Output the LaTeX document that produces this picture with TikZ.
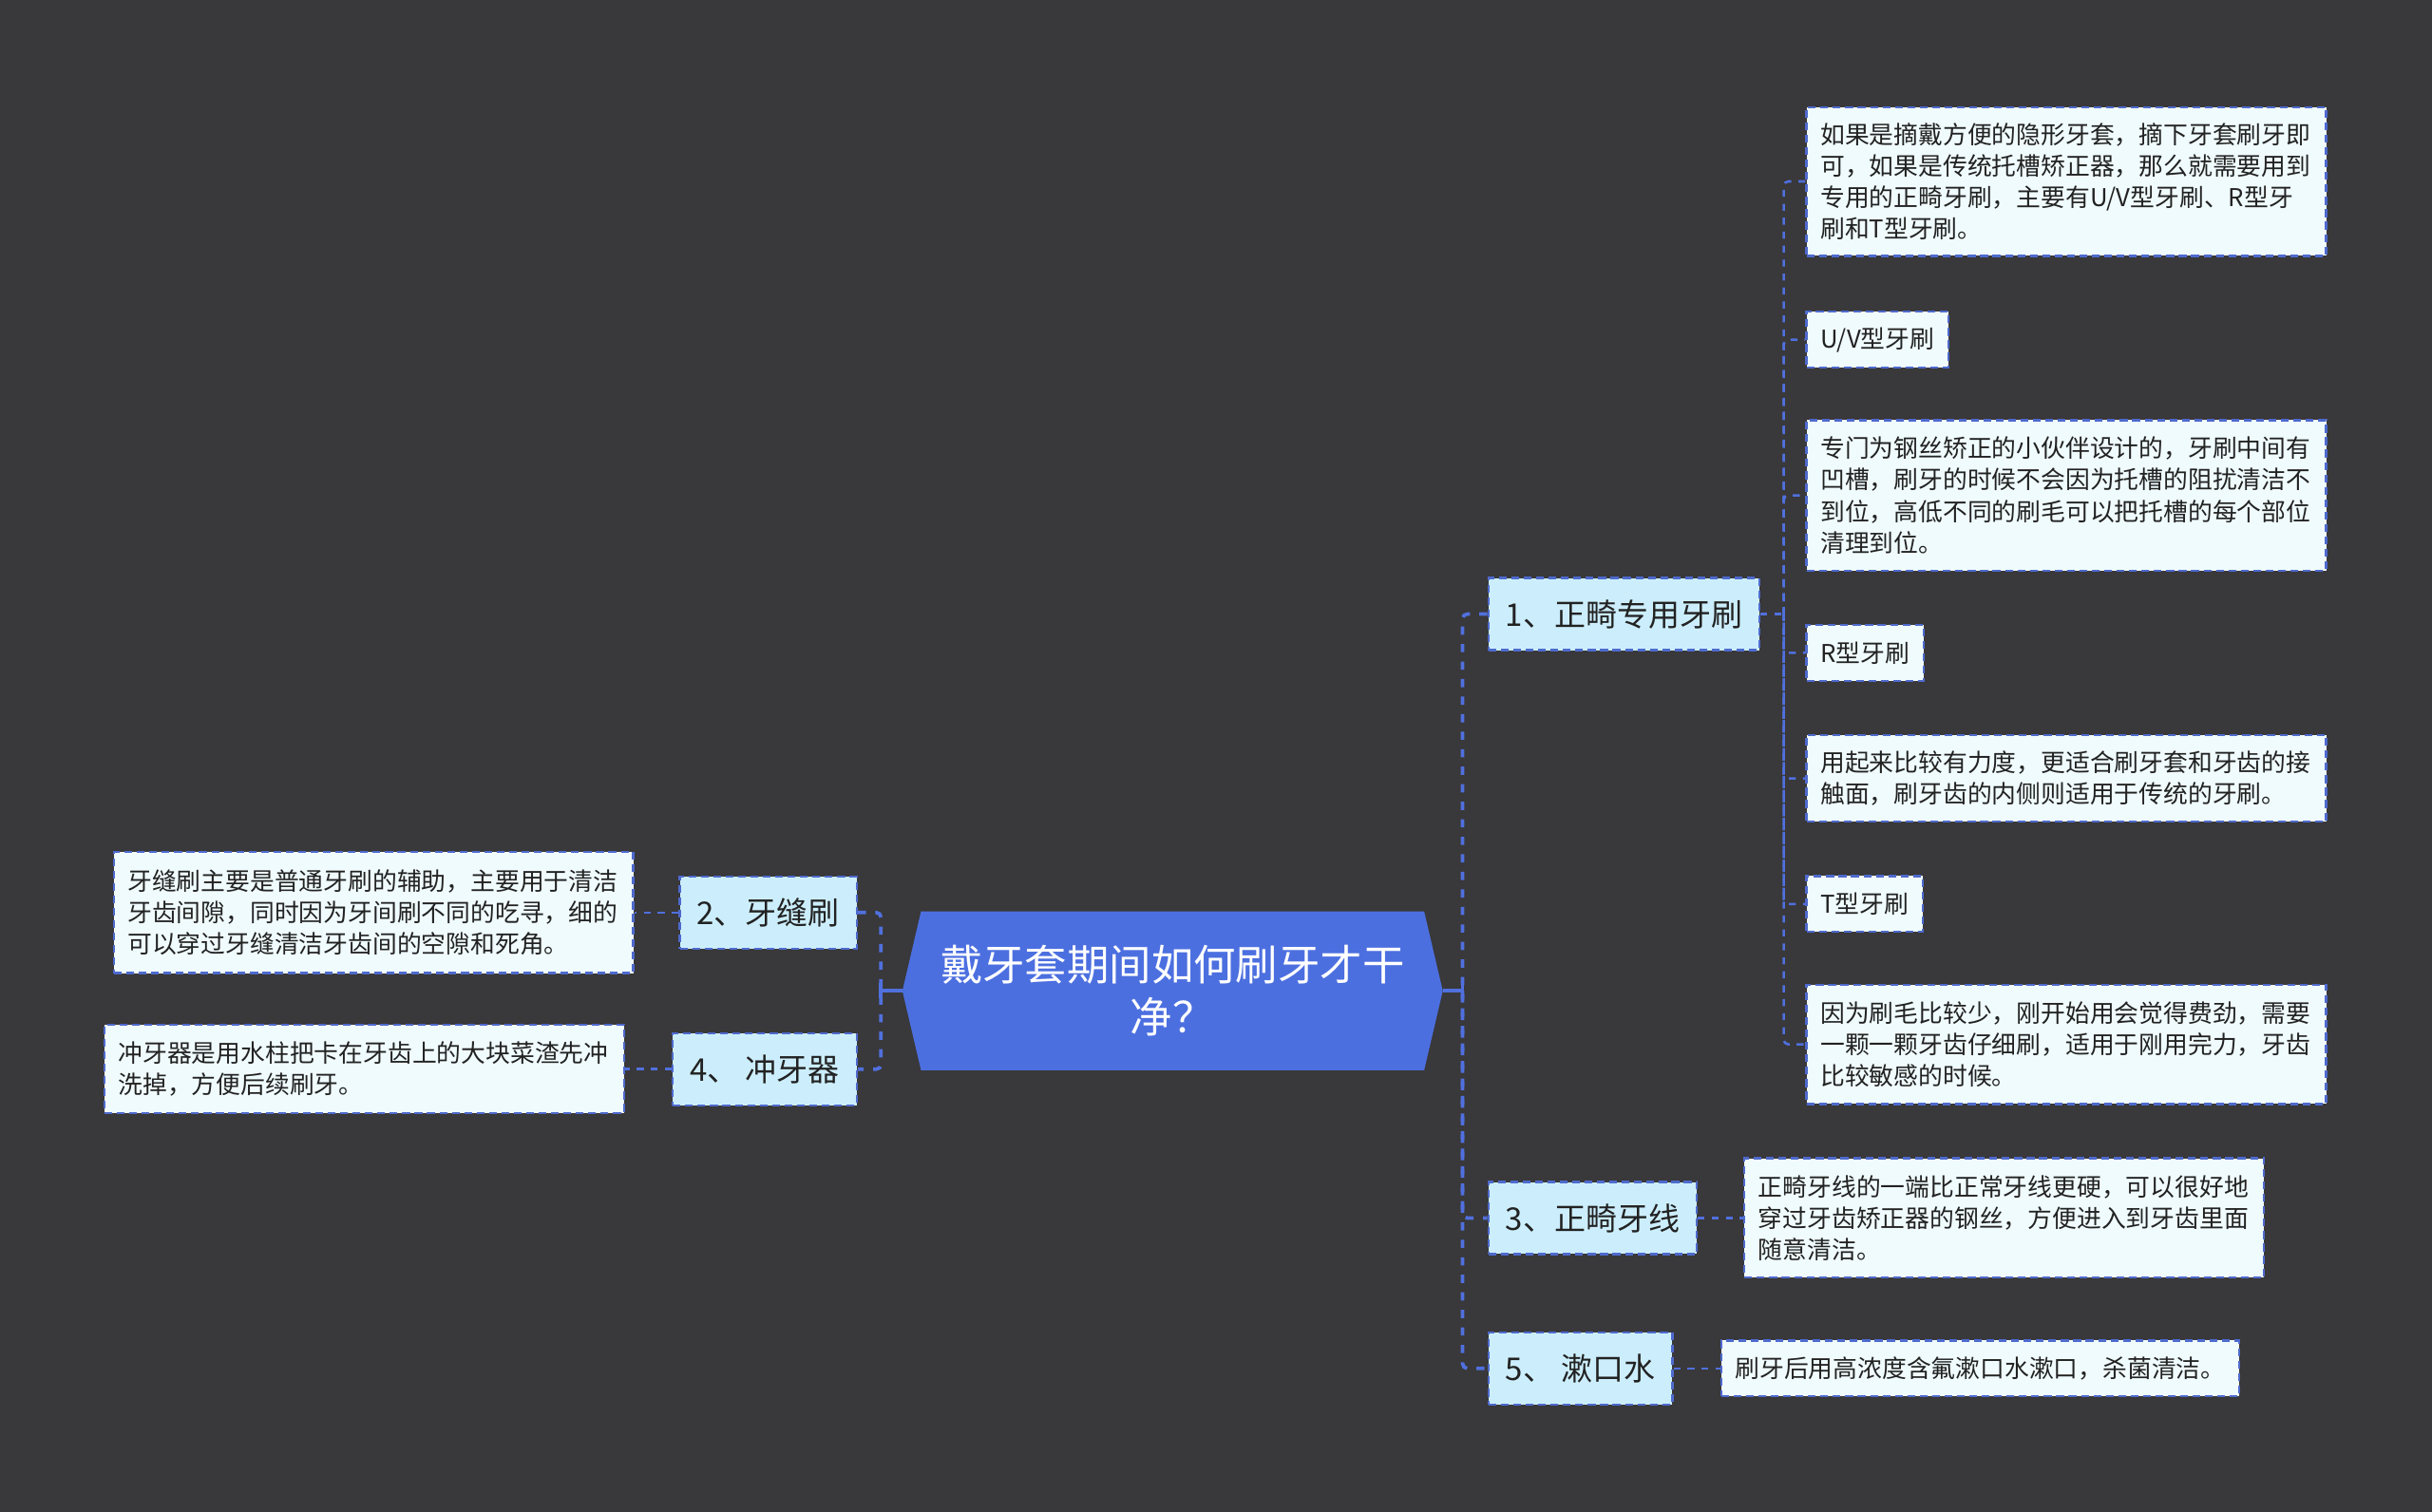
\documentclass[tikz,border=0pt]{standalone}
\usepackage{fontspec}
\setmainfont{Noto Sans CJK SC}
\usetikzlibrary{backgrounds}
\definecolor{bgc}{RGB}{57,56,58}
\definecolor{rootblue}{RGB}{76,111,224}
\definecolor{lineblue}{RGB}{80,112,222}
\definecolor{boxline}{RGB}{78,106,205}
\definecolor{lonefill}{RGB}{204,238,252}
\definecolor{leaffill}{RGB}{240,251,253}
\definecolor{txt}{RGB}{34,34,34}
\tikzset{
  mainconn/.style={draw=lineblue, line width=2.3pt, dash pattern=on 5.3pt off 6pt, rounded corners=3pt},
  conn/.style={draw=lineblue, line width=1.6pt, dash pattern=on 4.5pt off 4.5pt, rounded corners=3pt},
  lone/.style={draw=boxline, line width=1.4pt, dash pattern=on 5pt off 3pt, fill=lonefill,
    font=\fontsize{20.2}{24}\selectfont, text=txt, minimum height=46.5pt, inner xsep=11pt, inner ysep=0pt},
  tagleaf/.style={draw=boxline, line width=1.4pt, dash pattern=on 5pt off 3pt, fill=leaffill,
    font=\fontsize{15.8}{20.3}\selectfont, text=txt, inner xsep=9pt, inner ysep=0pt, minimum height=36pt},
  leaf/.style={tagleaf, text width=317pt, align=left},
  rootnode/.style={text=white, font=\fontsize{27.2}{34}\selectfont, align=center,
    minimum width=324pt, minimum height=102pt, inner sep=0pt}
}
\begin{document}
\begin{tikzpicture}[x=1pt,y=-1pt]
\begin{scope}[on background layer]
\fill[bgc] (0,0) rectangle (1568,975);
\end{scope}
\useasboundingbox (0,0) rectangle (1568,975);

% root
\node[rootnode] (root) at (756,639) {戴牙套期间如何刷牙才干\\净？};
\coordinate (rootR) at ([xshift=12pt]root.east);
\coordinate (rootL) at ([xshift=-12pt]root.west);
\begin{scope}[on background layer]
\fill[rootblue] (root.north west) -- (root.north east) -- (rootR) -- (root.south east)
  -- (root.south west) -- (rootL) -- cycle;
\end{scope}

% level 1
\node[lone, anchor=west] (n1) at (959,396) {1、正畸专用牙刷};
\node[lone, anchor=west] (n3) at (959,785.5) {3、正畸牙线};
\node[lone, anchor=west] (n5) at (959,882.5) {5、 漱口水};
\node[lone, anchor=east] (n2) at (553,588.5) {2、牙缝刷};
\node[lone, anchor=east] (n4) at (553,689.5) {4、 冲牙器};

% leaves of 1
\node[leaf, anchor=west, minimum height=96pt] (a) at (1164,117)
  {如果是摘戴方便的隐形牙套，摘下牙套刷牙即\\可，如果是传统托槽矫正器，那么就需要用到\\专用的正畸牙刷，主要有U/V型牙刷、R型牙\\刷和T型牙刷。};
\node[tagleaf, anchor=west] (b) at (1164,219) {U/V型牙刷};
\node[leaf, anchor=west, minimum height=97pt] (c) at (1164,319.5)
  {专门为钢丝矫正的小伙伴设计的，牙刷中间有\\凹槽，刷牙的时候不会因为托槽的阻扰清洁不\\到位，高低不同的刷毛可以把托槽的每个部位\\清理到位。};
\node[tagleaf, anchor=west] (d) at (1164,421) {R型牙刷};
\node[leaf, anchor=west, minimum height=56pt] (e) at (1164,502)
  {用起来比较有力度，更适合刷牙套和牙齿的接\\触面，刷牙齿的内侧则适用于传统的牙刷。};
\node[tagleaf, anchor=west] (f) at (1164,583) {T型牙刷};
\node[leaf, anchor=west, minimum height=77pt] (g) at (1164,673.5)
  {因为刷毛比较少，刚开始用会觉得费劲，需要\\一颗一颗牙齿仔细刷，适用于刚用完力，牙齿\\比较敏感的时候。};

% leaves of 3, 5
\node[leaf, anchor=west, minimum height=77pt] (h) at (1124,785.5)
  {正畸牙线的一端比正常牙线更硬，可以很好地\\穿过牙齿矫正器的钢丝，方便进入到牙齿里面\\随意清洁。};
\node[tagleaf, anchor=west] (i) at (1109,882.5) {刷牙后用高浓度含氟漱口水漱口，杀菌清洁。};

% leaves of 2, 4
\node[leaf, anchor=east, minimum height=78pt] (j) at (409,588.5)
  {牙缝刷主要是普通牙刷的辅助，主要用于清洁\\牙齿间隙，同时因为牙间刷不同的吃寻，细的\\可以穿过牙缝清洁牙齿间的空隙和死角。};
\node[leaf, anchor=east, minimum height=57pt] (k) at (403,689.5)
  {冲牙器是用水柱把卡在牙齿上的大块菜渣先冲\\洗掉，方便后续刷牙。};

% connectors
\coordinate (busR) at (943,639);
\coordinate (busL) at (568,639);
\coordinate (bus1) at (1150,396);
\draw[draw=lineblue, line width=2.3pt] (rootR) -- (busR);
\draw[draw=lineblue, line width=2.3pt] ([yshift=-5pt]busR) -- ([yshift=5pt]busR);
\draw[draw=lineblue, line width=2.3pt] (rootL) -- (busL);
\draw[draw=lineblue, line width=2.3pt] ([yshift=-5pt]busL) -- ([yshift=5pt]busL);
\draw[mainconn] (n1.west) -| (busR) |- (n5.west);
\draw[mainconn] (busR) |- (n3.west);
\draw[mainconn] (n2.east) -| (busL) |- (n4.east);

\draw[conn] (n1.east) -- (bus1);
\draw[conn] (a.west) -| (bus1) |- (g.west);
\draw[conn] (bus1) |- (b.west);
\draw[conn] (bus1) |- (c.west);
\draw[conn] (bus1) |- (d.west);
\draw[conn] (bus1) |- (e.west);
\draw[conn] (bus1) |- (f.west);

\draw[conn] (n3.east) -- (h.west);
\draw[conn] (n5.east) -- (i.west);
\draw[conn] (n2.west) -- (j.east);
\draw[conn] (n4.west) -- (k.east);
\end{tikzpicture}
\end{document}
